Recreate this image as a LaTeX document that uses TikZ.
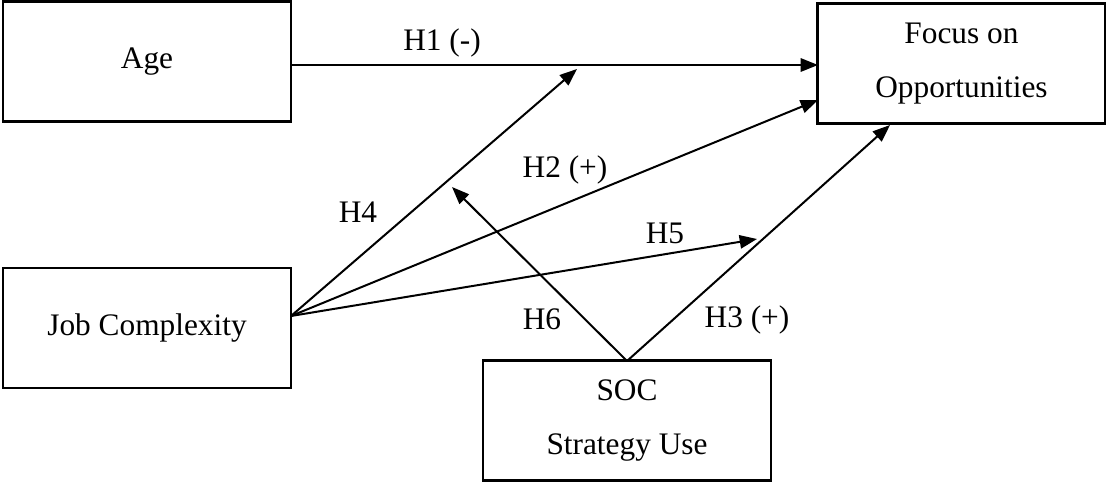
\documentclass[tikz,border=0pt]{standalone}
\usepackage{fontspec}
\setmainfont{Liberation Serif}
\usetikzlibrary{arrows.meta}
\begin{document}
\begin{tikzpicture}[x=0.75pt,y=-0.75pt,
  box/.style={draw,line width=1.6pt,minimum width=216pt,minimum height=90pt,inner sep=0pt,align=center,font=\fontsize{23.5}{41}\selectfont},
  lab/.style={font=\fontsize{23.5}{28}\selectfont,inner sep=0pt},
  link/.style={line width=1.5pt},
  arr/.style={link,-{Triangle[length=13pt,width=10pt]}}]
\useasboundingbox (0,0) rectangle (1106,482);
\node[box] (age) at (147,61.5) {Age};
\node[box] (foc) at (961.5,63.5) {Focus on\\Opportunities};
\node[box] (job) at (147,328) {Job Complexity};
\node[box] (soc) at (627,420.5) {SOC\\Strategy Use};
\coordinate (h1s) at (291,65);
\coordinate (h1e) at (818,65);
\coordinate (js) at (291,316);
\coordinate (h2e) at (818,100);
\coordinate (h3e) at (890,125);
\coordinate (h4e) at (577,69);
\coordinate (h5e) at (757,239);
\coordinate (h6e) at (452,187);
\coordinate (sa) at (627,361);
\draw[arr] (h1s) -- (h1e);
\draw[arr] (js) -- (h2e);
\draw[arr] (js) -- (h4e);
\draw[arr] (js) -- (h5e);
\draw[arr] (sa) -- (h3e);
\draw[arr] (sa) -- (h6e);
\node[lab] (l1) at (442,43) {H1 (-)};
\node[lab] (l2) at (565,170) {H2 (+)};
\node[lab] (l4) at (358,212) {H4};
\node[lab] (l5) at (665,233) {H5};
\node[lab] (l6) at (542,319) {H6};
\node[lab] (l3) at (747,320) {H3 (+)};
\end{tikzpicture}
\end{document}
